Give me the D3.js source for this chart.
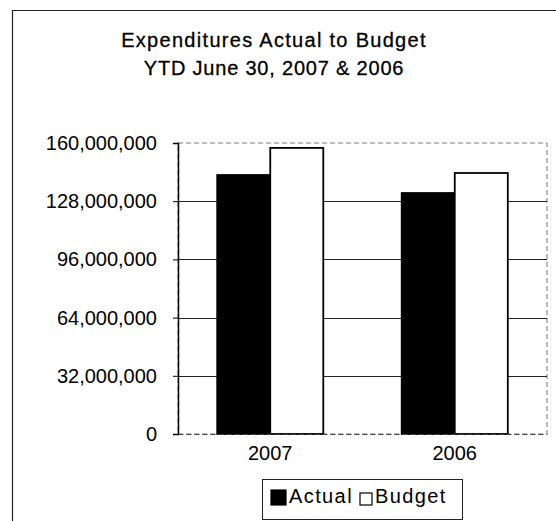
<!DOCTYPE html>
<html>
<head>
<meta charset="utf-8">
<script src="https://cdn.jsdelivr.net/npm/d3@7"></script>
<style>
  html, body { margin: 0; padding: 0; background: #fff; }
  svg { display: block; font-family: "Liberation Sans", Arial, sans-serif; }
</style>
</head>
<body>
<svg id="chart" width="556" height="521"></svg>
<script>
// chart data
const years = ["2007", "2006"];
const seriesNames = ["Actual", "Budget"];
const actualValues = [142400000, 132500000];
const budgetValues = [157300000, 143500000];
const yTicks = [0, 32000000, 64000000, 96000000, 128000000, 160000000];
const titleLines = ["Expenditures Actual to Budget", "YTD June 30, 2007 & 2006"];

const rows = years.map((year, i) => ({
  year,
  Actual: actualValues[i],
  Budget: budgetValues[i],
}));

const plot = { left: 178, right: 547, top: 143, bottom: 434 };
const svg = d3.select("#chart");

// outer frame (runs off the right / bottom edge in the scan)
svg.append("path")
  .attr("d", "M12.5,530 L12.5,10.5 L560,10.5")
  .attr("fill", "none")
  .attr("stroke", "#222")
  .attr("stroke-width", 1.2);

svg.selectAll(".title")
  .data(titleLines)
  .join("text")
  .attr("class", "title")
  .attr("x", 274)
  .attr("y", (d, i) => 47 + i * 28)
  .attr("text-anchor", "middle")
  .style("font-size", "20px")
  .style("letter-spacing", (d, i) => (i === 0 ? "1.3px" : "0.8px"))
  .style("fill", "#000")
  .style("stroke", "#000")
  .style("stroke-width", "0.3px")
  .text((d) => d);

const x0 = d3.scaleBand()
  .domain(years)
  .range([plot.left, plot.right])
  .paddingInner(0.425)
  .paddingOuter(0.2125);

const x1 = d3.scaleBand()
  .domain(seriesNames)
  .range([0, x0.bandwidth()]);

const y = d3.scaleLinear()
  .domain([0, 160000000])
  .range([plot.bottom, plot.top]);

const fillColor = { Actual: "#000", Budget: "#fff" };

// plot area border, dashed like the scan
svg.append("rect")
  .attr("x", plot.left)
  .attr("y", plot.top)
  .attr("width", plot.right - plot.left)
  .attr("height", plot.bottom - plot.top)
  .attr("fill", "none")
  .attr("stroke", "#777")
  .attr("stroke-width", 1)
  .attr("stroke-dasharray", "5,3");

// gridlines
svg.append("g")
  .selectAll("line")
  .data(yTicks.filter((t) => t > 0 && t < 160000000))
  .join("line")
  .attr("x1", plot.left)
  .attr("x2", plot.right)
  .attr("y1", (d) => Math.round(y(d)) + 0.5)
  .attr("y2", (d) => Math.round(y(d)) + 0.5)
  .attr("stroke", "#222")
  .attr("stroke-width", 1.2);

// bars
svg.append("g")
  .selectAll("g")
  .data(rows)
  .join("g")
  .attr("transform", (d) => `translate(${x0(d.year)},0)`)
  .selectAll("rect")
  .data((d) => seriesNames.map((key) => ({ key, value: d[key] })))
  .join("rect")
  .attr("x", (d) => x1(d.key))
  .attr("y", (d) => y(d.value))
  .attr("width", x1.bandwidth())
  .attr("height", (d) => y(0) - y(d.value))
  .attr("fill", (d) => fillColor[d.key])
  .attr("stroke", "#000")
  .attr("stroke-width", 1.8);

// y axis
const yAxis = svg.append("g")
  .attr("transform", `translate(${plot.left},0)`)
  .call(
    d3.axisLeft(y)
      .tickValues(yTicks)
      .tickFormat(d3.format(","))
      .tickSize(5)
      .tickPadding(16)
  );
yAxis.select(".domain").attr("stroke", "#000").attr("stroke-width", 1.5);
yAxis.selectAll(".tick line").attr("stroke", "#000");
yAxis.selectAll(".tick text")
  .attr("fill", "#000")
  .style("font-size", "20px")
  .style("font-family", "'Liberation Sans', Arial, sans-serif");

// x axis
const xAxis = svg.append("g")
  .attr("transform", `translate(0,${plot.bottom})`)
  .call(d3.axisBottom(x0).tickSize(0).tickPadding(12));
xAxis.select(".domain")
  .attr("stroke", "#444")
  .attr("stroke-dasharray", "5,3");
xAxis.selectAll(".tick text")
  .attr("fill", "#000")
  .style("font-size", "20px")
  .style("font-family", "'Liberation Sans', Arial, sans-serif");

// legend
const legend = svg.append("g");
legend.append("rect")
  .attr("x", 262.5)
  .attr("y", 479.5)
  .attr("width", 200)
  .attr("height", 40)
  .attr("fill", "#fff")
  .attr("stroke", "#222")
  .attr("stroke-width", 1);

let lx = 271;
seriesNames.forEach((name) => {
  const sw = name === "Actual" ? 15 : 12;
  legend.append("rect")
    .attr("x", lx)
    .attr("y", 505 - sw)
    .attr("width", sw)
    .attr("height", sw)
    .attr("fill", fillColor[name])
    .attr("stroke", "#000")
    .attr("stroke-width", 1.2);
  const t = legend.append("text")
    .attr("x", lx + sw + 3)
    .attr("y", 503)
    .style("font-size", "20px")
    .style("letter-spacing", "1.4px")
    .style("fill", "#000")
    .text(name);
  lx += sw + 3 + t.node().getComputedTextLength() + 7;
});
</script>
</body>
</html>
